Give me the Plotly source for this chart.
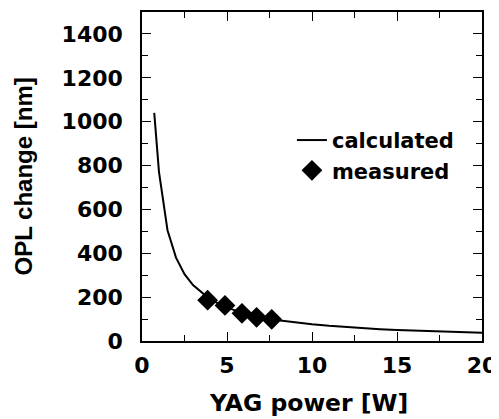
import plotly.graph_objects as go

calc_power = [0.72, 1, 1.5, 2, 2.5, 3, 4, 5, 6, 7, 8, 9, 10, 11, 12, 13, 14, 15, 16, 17, 18, 19, 20]
calc_opl = [1040, 770, 505, 380, 305, 255, 190, 152, 126, 108, 95, 85, 76, 69, 63, 58, 54, 50, 47, 44, 42, 40, 38]

meas_power = [3.86, 4.88, 5.88, 6.74, 7.63]
meas_opl = [186, 162, 126, 108, 99]

x_ticks = [0, 5, 10, 15, 20]
y_ticks = [0, 200, 400, 600, 800, 1000, 1200, 1400]

HFONT = "DejaVu Sans"
VFONT = "Liberation Sans"

fig = go.Figure()
fig.add_trace(go.Scatter(x=calc_power, y=calc_opl, mode="lines", name="calculated",
                         line=dict(color="black", width=2)))
fig.add_trace(go.Scatter(x=meas_power, y=meas_opl, mode="markers", name="measured",
                         marker=dict(symbol="diamond", size=16, color="black")))

axis_common = dict(
    showgrid=False, zeroline=False, showline=True, linecolor="black", linewidth=1.5,
    mirror="allticks", ticks="inside", ticklen=9, tickwidth=1, tickcolor="black",
    tickfont=dict(family=HFONT, size=22, color="black", weight="bold"),
    minor=dict(ticks="inside", ticklen=6, tickwidth=1, tickcolor="black"),
    automargin=False,
)

fig.update_xaxes(range=[0, 20], tickvals=x_ticks, ticktext=[str(v) for v in x_ticks],
                 minor_dtick=2.5, ticklabelstandoff=4, **axis_common)
fig.update_yaxes(range=[0, 1500], tickvals=y_ticks, ticktext=[str(v) for v in y_ticks],
                 minor_dtick=100, ticklabelstandoff=13, **axis_common)

fig.add_annotation(text="YAG power [W]", xref="paper", yref="paper", x=0.49, y=-0.188,
                   xanchor="center", yanchor="middle", showarrow=False,
                   font=dict(family=HFONT, size=23.5, color="black", weight="bold"))
fig.add_annotation(text="OPL change [nm]", xref="paper", yref="paper", x=-0.35, y=0.5,
                   xanchor="center", yanchor="middle", showarrow=False, textangle=-90,
                   font=dict(family=VFONT, size=24, color="black", weight="bold"))

fig.update_layout(
    width=491, height=411,
    margin=dict(l=134, r=17, t=4, b=78),
    paper_bgcolor="white", plot_bgcolor="white",
    showlegend=True,
    legend=dict(x=0.441, y=0.672, xanchor="left", yanchor="top",
                bgcolor="rgba(0,0,0,0)",
                font=dict(family=HFONT, size=21, color="black", weight="bold"),
                itemwidth=30, tracegroupgap=0),
)

fig.write_html("out.html")
